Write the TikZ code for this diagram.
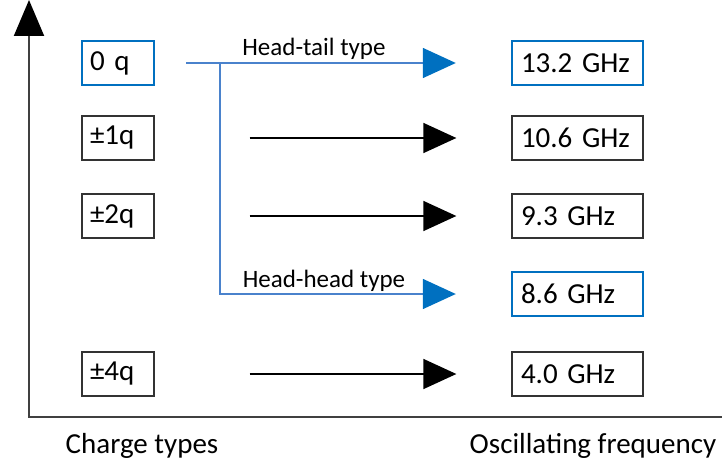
\documentclass[tikz,border=0pt]{standalone}
\usepackage{fontspec}
\setmainfont{Carlito}
\usetikzlibrary{arrows.meta,positioning}
\definecolor{boxblue}{HTML}{0070C0}
\definecolor{lineblue}{HTML}{4A82CC}
\definecolor{axisgray}{HTML}{404040}

\tikzset{
  chargebox/.style={draw=black!80, line width=1.3pt, text width=56pt, inner xsep=8pt, inner ysep=0pt,
    minimum height=44pt, align=left, font=\fontsize{29}{34}\selectfont},
  freqbox/.style={chargebox, text width=113pt, inner xsep=9pt},
  bluebox/.style={draw=boxblue, line width=2.4pt},
  flow/.style={line width=1.5pt, -{Triangle[length=33pt,width=30pt]}},
  blueflow/.style={flow, lineblue, -{Triangle[length=33pt,width=30pt,color=boxblue,fill=boxblue]}},
  typelabel/.style={font=\fontsize{25}{30}\selectfont, anchor=base, inner sep=0pt},
  axislabel/.style={font=\fontsize{29}{34}\selectfont, anchor=base, inner sep=0pt},
}

\begin{document}
\begin{tikzpicture}[x=1pt,y=-1pt]
  \useasboundingbox (0,0) rectangle (722,468);

  % Axes
  \coordinate (ytop) at (29,0);
  \coordinate (origin) at (29,417);
  \coordinate (xend) at (722,417);
  \draw[axisgray, line width=2pt, {Triangle[length=36pt,width=30pt,color=black,fill=black]}-] (ytop) -- (origin) -- (xend);
  \node[axislabel] (chargelabel) at (142,453) {Charge types};
  \node[axislabel] (freqlabel) at (593,453) {Oscillating frequency};

  % Charge types
  \node[chargebox, bluebox] (q0) at (118,63) {0 q};
  \node[chargebox] (q1) at (118,138) {±1q};
  \node[chargebox] (q2) at (118,216) {±2q};
  \node[chargebox] (q4) at (118,374) {±4q};

  % Frequencies
  \node[freqbox, bluebox] (f0) at (577.5,63) {13.2 GHz};
  \node[freqbox] (f1) at (577.5,138) {10.6 GHz};
  \node[freqbox] (f2) at (577.5,216) {9.3 GHz};
  \node[freqbox, bluebox] (f3) at (577.5,294) {8.6 GHz};
  \node[freqbox] (f4) at (577.5,374) {4.0 GHz};

  % Black arrows
  \foreach \q/\f in {q1/f1, q2/f2, q4/f4} {
    \draw[flow, shorten <=95pt, shorten >=55pt] (\q) -- (\f);
  }

  % Blue arrows (zero charge)
  \draw[blueflow, shorten <=31pt, shorten >=55pt] (q0) -- (f0);
  \coordinate (split) at (220,63);
  \draw[blueflow, shorten >=55pt] (split) -- (split |- f3) -- (f3);
  \node[typelabel] (headtail) at (314,56) {Head-tail type};
  \node[typelabel] (headhead) at (324,287) {Head-head type};
\end{tikzpicture}
\end{document}
